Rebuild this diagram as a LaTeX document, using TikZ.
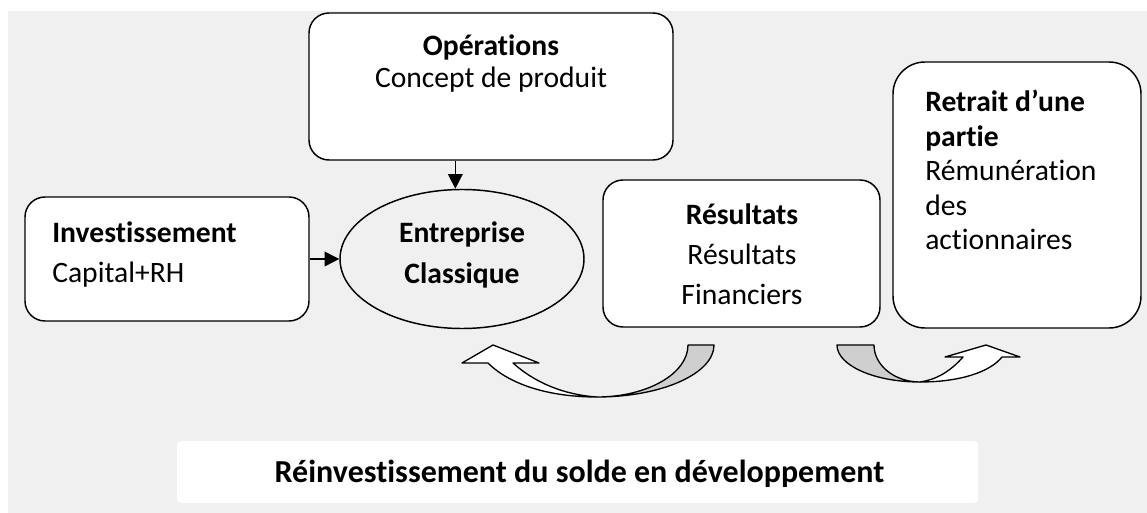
\documentclass[tikz,border=0pt]{standalone}
\usepackage{fontspec}
\setmainfont{Carlito}[Ligatures={TeX,NoCommon}]
\usepackage{xcolor}
\usetikzlibrary{positioning,shapes.geometric,arrows.meta}
\definecolor{bggray}{HTML}{F0F0F0}
\definecolor{tailgray}{HTML}{CFCFCF}

\begin{document}
\begin{tikzpicture}[x=.75pt,y=-.75pt,
  box/.style={draw, line width=1.1pt, fill=white, rounded corners=15pt, inner sep=0pt},
  txt/.style={inner sep=0pt, font=\fontsize{22.2}{#1}\selectfont},
  arr/.style={line width=1.1pt, -{Triangle[length=11pt,width=11pt]}},
  curvearrow/.style={line width=1pt, line join=round}]
\useasboundingbox (0,0) rectangle (1147,513);
\fill[white] (0,0) rectangle (1147,513);
\fill[bggray] (8,11) rectangle (1147,513);
% boxes
\node[box, minimum width=273pt, minimum height=110.25pt] (ops) at (491,86.5) {};
\node[box, minimum width=213pt, minimum height=93pt] (inv) at (167,259) {};
\node[draw, line width=1.1pt, fill=bggray, ellipse, inner sep=0pt,
      minimum width=183pt, minimum height=104.25pt] (ent) at (462,259) {};
\node[box, minimum width=207.75pt, minimum height=110.25pt] (res) at (741.5,253.5) {};
\node[box, rounded corners=24pt, minimum width=186pt, minimum height=199.5pt] (ret) at (1017,195) {};
\node[fill=white, rounded corners=3pt, inner sep=0pt,
      minimum width=600.75pt, minimum height=46.5pt] (banner) at (577.5,472) {};
% texts (anchored on the last line)
\node[txt=24pt, align=center, anchor=base] (opstxt) at (491,88) {\textbf{Opérations}\\Concept de produit};
\node[txt=29.8pt, align=left, anchor=base west] (invtxt) at (52,282.5) {\textbf{Investissement}\\Capital+RH};
\node[txt=30.75pt, align=center, anchor=base] (enttxt) at (462,284) {\textbf{Entreprise}\\\textbf{Classique}};
\node[txt=30pt, align=center, anchor=base] (restxt) at (742,305) {\textbf{Résultats}\\Résultats\\Financiers};
\node[txt=25.9pt, align=left, anchor=base west] (rettxt) at (925,250) {\textbf{Retrait d’une}\\\textbf{partie}\\Rémunération\\des\\actionnaires};
\node[inner sep=0pt, font=\fontsize{24}{28}\selectfont, anchor=base] (bantxt) at (579.5,483) {\textbf{Réinvestissement du solde en développement}};
% connectors
\draw[arr] ([xshift=-5pt]ops.south -| ent.north) -- ([xshift=-5pt]ent.north);
\draw[arr] (inv.east) -- (ent.west);
% curved arrow back to the firm
\filldraw[curvearrow, fill=white] (597,397) .. controls (550,397) and (510,385) .. (488,363)
  -- (462,363) -- (493,345) -- (539,363) -- (513,363)
  .. controls (535,383) and (565,395) .. (597,397) -- cycle;
\filldraw[curvearrow, fill=tailgray] (714,345) -- (688,345) .. controls (688,373.7) and (647.2,397) .. (597,397)
  .. controls (661.6,397) and (714,373.7) .. (714,345) -- cycle;
% curved arrow to the shareholders
\filldraw[curvearrow, fill=white] (920,382) .. controls (960,382) and (990,372) .. (1002,357)
  -- (1020,357) -- (986,345) -- (945,357) -- (963,357)
  .. controls (950,372) and (935,380) .. (920,382) -- cycle;
\filldraw[curvearrow, fill=tailgray] (837,345) -- (874,345) .. controls (874,365.4) and (894.6,382) .. (920,382)
  .. controls (874.2,382) and (837,365.4) .. (837,345) -- cycle;
\end{tikzpicture}
\end{document}
